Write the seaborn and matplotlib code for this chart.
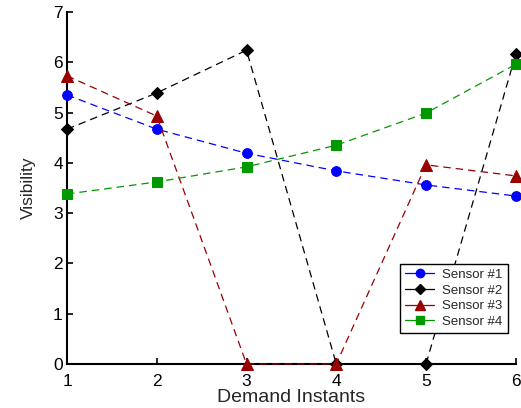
import pandas as pd
import matplotlib
matplotlib.use('Agg')
import matplotlib.pyplot as plt
import seaborn as sns
from matplotlib.lines import Line2D

instants = [1, 2, 3, 4, 5, 6]
sensor1 = [5.35, 4.67, 4.19, 3.84, 3.56, 3.34]
sensor2 = [4.67, 5.39, 6.24, 0.0, 0.0, 6.16]
sensor3 = [5.73, 4.93, 0.0, 0.0, 3.96, 3.74]
sensor4 = [3.38, 3.62, 3.92, 4.35, 4.99, 5.96]
names = ['Sensor #1', 'Sensor #2', 'Sensor #3', 'Sensor #4']

colors = ['#0000ff', '#000000', '#990000', '#009900']
markers = ['o', 'D', '^', 's']
msizes = [7, 6, 8, 7]

sns.set_style('ticks')
plt.rcParams['font.family'] = ['Liberation Sans', 'DejaVu Sans']

fig = plt.figure(figsize=(5.21, 4.08), dpi=100)
ax = fig.add_axes([0.1286, 0.108, 0.8614, 0.8626])

series = [sensor1, sensor2, sensor3, sensor4]
for vals, name, c, m, ms in zip(series, names, colors, markers, msizes):
    df = pd.DataFrame({'x': instants, 'y': vals})
    sns.lineplot(data=df, x='x', y='y', ax=ax, color=c, linestyle=(0, (6, 4)),
                 linewidth=0.9, marker=m, markersize=ms, markeredgecolor=c,
                 markerfacecolor=c, clip_on=False, zorder=3)

ax.set_xlim(1, 6)
ax.set_ylim(0, 7)
ax.set_xticks(instants)
ax.set_yticks(range(0, 8))
ax.tick_params(direction='in', length=4, width=1.2, labelsize=12.5, colors='black', pad=3)
ax.tick_params(axis='x', pad=7)
for s in ['top', 'right']:
    ax.spines[s].set_visible(False)
for s in ['left', 'bottom']:
    ax.spines[s].set_linewidth(1.5)
    ax.spines[s].set_color('black')
ax.set_xlabel('Demand Instants', fontsize=14, labelpad=0)
ax.set_ylabel('Visibility', fontsize=12.5, labelpad=12)

handles = [Line2D([0], [0], color=c, marker=m, markersize=ms - 1, linewidth=0.9,
                  markerfacecolor=c, markeredgecolor=c)
           for c, m, ms in zip(colors, markers, msizes)]
leg = ax.legend(handles, names, loc='lower right', bbox_to_anchor=(0.982, 0.088),
                fontsize=9.5, frameon=True, fancybox=False, edgecolor='black',
                framealpha=1, borderpad=0.4, labelspacing=0.25, handlelength=2.2,
                handletextpad=0.6, borderaxespad=0)
leg.get_frame().set_linewidth(1.0)

fig.savefig('out.png', dpi=100)
